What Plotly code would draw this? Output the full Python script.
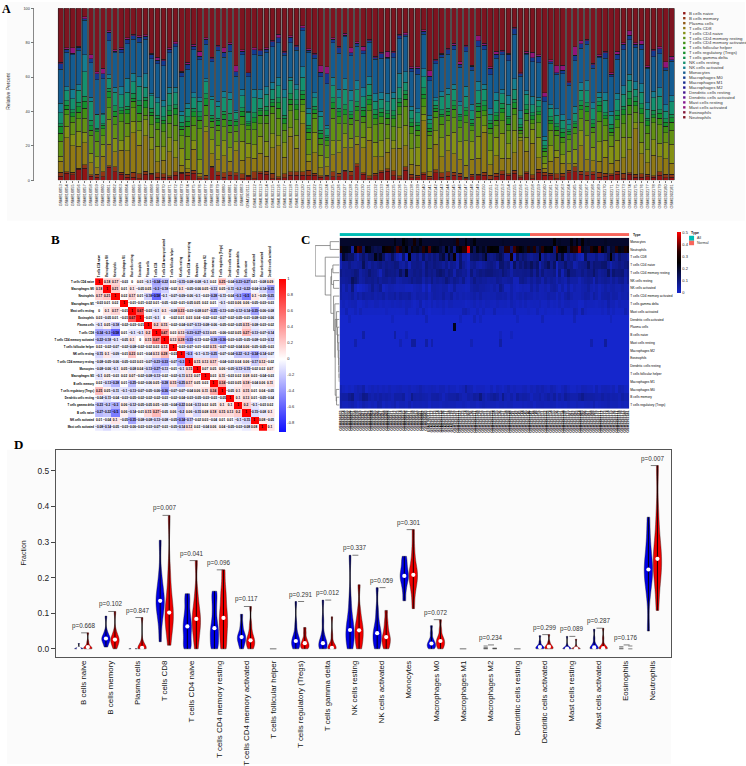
import colorsys
import plotly.graph_objects as go

FONT = "Liberation Sans"
W, H = 746, 766

cell_types = ["B cells naive", "B cells memory", "Plasma cells", "T cells CD8", "T cells CD4 naive",
              "T cells CD4 memory resting", "T cells CD4 memory activated", "T cells follicular helper",
              "T cells regulatory (Tregs)", "T cells gamma delta", "NK cells resting", "NK cells activated",
              "Monocytes", "Macrophages M0", "Macrophages M1", "Macrophages M2", "Dendritic cells resting",
              "Dendritic cells activated", "Mast cells resting", "Mast cells activated", "Eosinophils",
              "Neutrophils"]
samples = ["GSM8168%02d" % i for i in range(53, 84)] + ["GSM19021%02d" % i for i in range(11, 82)]

# Panel A: percent per sample
b_naive = [3,5,4,8,7,3,2,2,8,5, 4,2,2,1,4,4,2,2,2,3, 5,3,4,1,1,8,3,2,3,3, 1,4,1,5,4,1,1,2,3,3, 3,3,3,2,2,2,2,5,3,9,4,1,
           3,5,6,3,1,6,2,2,4,1, 5,2,3,3,3,1,3,3,3,1, 3,4,4,4,3,4,1,5,4,3, 1,2,6,5,4,3,5,2,3,4, 4,1,4,2,2,3,2,3,2,2]
b_memory = [3,1,2,1,2,1,2,3,1,3, 1,2,3,3,2,1,3,2,1,2, 1,2,2,1,2,1,2,3,2,2, 3,1,4,1,2,3,1,3,2,2, 2,3,1,1,1,3,2,1,3,2,1,2,
            2,1,2,3,2,2,3,2,1,2, 2,3,3,2,2,1,2,1,2,3, 2,2,1,2,2,1,3,2,2,1, 3,2,2,3,2,2,2,3,2,1, 2,3,1,2,2,2,1,2,3,2]
t_cd8 = [8,24,19,16,13,9,4,9,13,9, 14,15,24,18,24,17,7,8,15,8, 5,2,12,2,26,8,7,11,6,15, 8,17,8,13,10,15,18,12,21,14, 28,5,12,5,5,10,12,13,15,13,17,23,
         11,9,11,14,17,12,8,8,33,3, 17,11,15,11,10,7,12,10,24,8, 12,8,12,10,40,12,23,7,3,7, 10,6,5,2,17,7,9,7,11,8, 7,9,15,30,12,9,13,9,12,7]
t_cd4_naive = [4,8,8,11,6,7,7,7,15,8, 6,9,7,9,11,9,10,8,9,10, 12,6,5,8,3,9,8,10,8,6, 11,14,8,12,10,8,6,11,5,8, 7,4,12,8,5,8,7,8,6,5,7,8,
               10,10,9,5,13,12,12,14,4,16, 9,13,11,13,13,15,14,14,4,11, 13,16,11,13,4,8,10,13,4,9, 4,5,10,8,10,14,11,12,12,13, 13,12,8,4,7,10,10,8,13,12]
t_cd4_rest = [11,8,9,9,8,13,10,5,7,8, 12,9,8,6,3,9,11,9,9,9, 9,14,9,18,7,8,9,9,9,7, 10,13,9,9,12,12,10,9,10,9, 4,9,8,7,7,13,10,6,9,11,10,11,
              12,11,10,9,8,11,12,10,5,9, 9,9,10,9,10,11,9,12,6,13, 8,8,10,9,4,10,4,9,5,9, 9,7,9,9,8,9,12,13,10,8, 8,8,15,7,12,13,11,11,8,9]
t_cd4_act = [6,4,4,5,6,4,6,4,6,5, 5,6,4,5,5,7,4,5,5,6, 5,6,5,5,6,4,3,5,4,4, 5,4,4,6,5,4,6,5,4,6, 3,4,3,4,3,6,4,5,4,6,4,4,
             4,4,4,5,5,4,6,4,5,3, 4,5,4,5,5,4,4,4,3,4, 4,5,5,4,4,4,3,5,4,4, 3,3,4,4,6,5,4,6,5,3, 5,5,6,4,5,6,3,4,5,5]
t_regs = [5,3,3,4,4,3,1,2,4,3, 2,3,2,5,5,2,3,2,3,4, 2,3,3,2,4,2,3,3,3,3, 3,2,3,3,3,2,3,4,3,3, 3,2,2,3,2,3,3,3,2,3,4,3,
          3,3,3,2,3,3,3,4,3,2, 2,2,3,2,3,3,2,3,3,4, 3,3,4,3,3,2,3,2,2,2, 2,3,3,2,3,3,3,4,2,3, 3,3,4,3,3,4,2,3,3,3]
t_gamma = [2,3,2,3,3,4,1,1,2,3, 2,2,3,3,2,3,2,2,3,2, 3,3,2,3,3,2,1,2,4,1, 2,2,3,2,3,2,3,2,3,3, 2,2,2,2,1,3,2,3,2,3,2,3,
           3,2,2,3,2,2,3,2,4,3, 2,3,2,3,2,2,3,2,3,2, 2,3,2,2,3,3,2,3,2,2, 2,2,1,1,3,2,3,2,2,3, 3,2,5,3,3,2,3,2,3,2]
nk_rest = [8,7,8,9,14,14,9,5,6,8, 8,9,7,9,7,9,8,6,8,7, 5,5,6,6,7,10,7,9,8,5, 7,9,9,7,8,6,7,13,8,6, 8,7,5,9,4,7,6,9,7,8,7,7,
           6,6,6,8,7,5,7,8,7,3, 3,9,10,7,6,7,7,8,7,5, 9,6,9,6,7,6,6,4,4,5, 5,5,4,5,7,7,9,3,9,7, 7,7,7,5,7,7,8,8,6,8]
nk_act = [7,3,7,4,10,3,0,1,2,3, 5,9,5,6,9,2,3,4,4,3, 3,3,3,2,2,2,3,4,4,1, 4,1,5,6,5,4,5,6,2,3, 6,3,3,3,2,5,5,6,7,6,6,5,
          5,4,6,4,9,6,3,3,5,3, 2,3,4,3,3,6,5,6,3,4, 5,3,7,6,9,2,6,2,3,2, 4,3,4,4,5,6,5,3,5,3, 4,5,4,5,5,5,4,5,5,4]
macro_m0 = [4,2,1,2,1,3,4,3,5,1, 2,3,2,3,2,3,2,3,2,2, 3,3,2,2,3,2,2,3,4,3, 2,4,3,3,2,3,3,2,3,2, 2,1,2,3,6,2,3,1,2,2,2,1,
            1,3,1,3,2,1,3,5,2,3, 2,2,3,3,2,3,3,4,3,5, 3,2,5,3,3,1,3,4,4,1, 1,2,2,3,3,2,3,1,4,2, 3,3,3,2,3,1,4,3,2,1]
mast_act = [1,1,4,1,1,3,1,3,1,1, 1,1,1,1,1,1,2,1,1,1, 1,1,1,3,1,1,1,3,1,4, 1,0,1,1,1,1,2,1,1,1, 1,1,1,4,4,1,1,1,3,1,3,1,
            1,1,4,1,1,1,1,1,1,4, 1,1,1,1,2,1,1,3,1,1, 2,1,1,1,1,1,4,1,3,1, 4,3,1,5,2,1,1,1,1,1, 2,1,3,1,2,1,1,1,5,2]
# lower edge of the neutrophil segment
neutrophil_edge = [68.6,77,77,78,95,73,63,65,87,76, 77,83,85,84,84.5,74,71.5,70.5,77,80.5,
                   63.5,68.5,79,75,83,71.5,78.5,77,80,66.5, 76,62.5,77,76,77,81.5,85,75,84,78.5,
                   89.8,76.5,74,66.5,66,83,78,85.4,77,80.5,78,82,
                   72,74.5,75,75,85,85.7,66,66,87.5,63.8, 70.5,74,76.7,79.6,69,78.6,67,84,79.6,66,
                   75,75.7,74,89,62.6,75,74.4,73,51,70, 66.5,67,57.4,77.6,81,82,68,73,75,62.5,
                   75,80,87,80,81,66.5,76.3,77.6,69,72]

# Panel C: sparse rows, sample index -> fraction
plasma_hits = {40: 0.22}
b_naive_hits = {8: 0.05, 19: 0.05, 23: 0.02, 56: 0.02, 60: 0.02}
mast_rest_hits = {5: 0.04, 21: 0.03, 25: 0.06, 26: 0.06, 30: 0.05, 32: 0.04, 46: 0.03, 56: 0.05, 88: 0.04, 93: 0.06}
dc_act_hits = {3: 0.02, 18: 0.02, 30: 0.03, 42: 0.02, 47: 0.03, 49: 0.02, 62: 0.02, 71: 0.03, 82: 0.03, 95: 0.02}
heat_peak_sample = 80
heat_peak_column = 45
heat_rows = ["Monocytes", "Neutrophils", "T cells CD8", "T cells CD4 naive", "T cells CD4 memory resting",
             "NK cells resting", "NK cells activated", "T cells CD4 memory activated", "T cells gamma delta",
             "Mast cells activated", "Dendritic cells activated", "Plasma cells", "B cells naive",
             "Mast cells resting", "Macrophages M2", "Eosinophils", "Dendritic cells resting",
             "T cells follicular helper", "Macrophages M1", "Macrophages M0", "B cells memory",
             "T cells regulatory (Tregs)"]
sample_type = [0] * 67 + [1] * 35
# [height, child a, child b]; children <22 are rows, >=22 are earlier merges
dendro_merges = [[28,0,1],[1,17,18],[1.5,16,23],[2,15,24],[2.5,14,25],[4,13,26],[5,12,27],[6,11,28],[8,10,29],[9,9,30],
                 [9,20,21],[10,19,32],[13,31,33],[14,8,34],[18,7,35],[18,5,6],[20,3,4],[24,38,37],[26,39,36],[43,2,40],[73,22,41]]

# Panel B
corr_labels = ["T cells CD4 naive", "Macrophages M0", "Neutrophils", "Macrophages M1", "Mast cells resting", "Eosinophils",
               "Plasma cells", "T cells CD8", "T cells CD4 memory activated", "T cells follicular helper", "NK cells resting",
               "T cells CD4 memory resting", "Monocytes", "Macrophages M2", "B cells memory", "T cells regulatory (Tregs)",
               "Dendritic cells resting", "T cells gamma delta", "B cells naive", "NK cells activated", "Mast cells activated",
               "Dendritic cells activated"]
corr_upper = [
 [.18,.17,-.03,0,.03,-.1,-.34,-.22,.02,-.15,-.08,-.08,-.1,.02,.25,-.04,-.23,-.27,.01,-.08,.09],
 [.21,.01,.1,-.05,.05,-.3,-.18,-.02,.1,-.05,-.06,.05,-.13,.05,-.11,-.2,-.22,-.04,-.14,-.35],
 [.02,.17,.01,-.18,-.58,-.1,-.07,-.09,-.06,-.1,-.03,-.28,-.11,-.04,-.3,-.5,.1,-.05,-.25],
 [-.01,-.01,-.02,.01,-.05,-.02,-.01,-.05,.05,.02,.01,-.1,-.03,.06,.06,-.05,-.03,-.03],
 [.67,-.03,-.1,.1,-.08,.23,-.03,-.08,.07,-.25,-.13,-.05,-.12,-.14,-.35,-.06,-.08],
 [-.01,-.1,0,-.02,.01,.03,.04,-.02,-.02,-.07,-.02,-.05,-.01,-.08,-.03,-.06],
 [.2,.15,-.02,-.04,-.07,-.13,-.08,-.06,-.05,-.02,-.05,.15,-.08,-.03,-.02],
 [.47,.03,.13,-.23,-.27,-.13,.05,-.06,-.02,.05,.27,-.13,-.07,-.14],
 [.13,.28,-.33,-.13,-.02,-.28,-.36,-.03,-.05,-.05,-.08,-.03,-.12],
 [-.03,-.07,-.01,-.02,.15,-.07,-.02,-.04,.06,-.05,-.05,-.03],
 [-.3,-.1,-.11,-.25,-.07,-.04,-.22,-.2,-.34,-.14,-.07],
 [.15,.13,.17,-.04,-.03,.04,.06,-.17,.12,-.02],
 [.07,.05,.06,-.05,-.13,-.15,-.02,.02,.07],
 [.03,.11,-.03,.02,.08,.03,-.04,-.03],
 [.34,-.03,.05,.18,-.04,.06,.11],
 [-.05,.1,.15,.01,.04,-.05],
 [.1,.13,.01,-.05,-.04],
 [.2,-.1,-.03,.02],
 [-.15,-.08,.1],
 [.08,-.05],
 [.1],
]
corr_rows_shown = 21

# Panel D: representative values per violin
violin_blue = [[0,0,0,0,.001,.002,.004,.015],[.005,.015,.022,.027,.029,.032,.038,.05,.092],[0,0,0,.001],
 [.02,.08,.11,.125,.135,.15,.17,.21,.305],[0,.01,.03,.05,.063,.08,.1,.13,.155],[0,.01,.03,.045,.058,.08,.11,.14,.162],
 [0,.012,.022,.028,.033,.04,.05,.07,.097],[],[0,.005,.012,.018,.022,.03,.04,.07,.133],[0,.002,.008,.012,.016,.025,.04,.08,.137],
 [0,.012,.03,.042,.053,.07,.09,.14,.263],[0,.01,.025,.035,.044,.055,.075,.11,.172],[.135,.165,.185,.197,.205,.215,.228,.245,.26],
 [0,.003,.008,.012,.015,.02,.028,.045,.065],[],[],[],[0,0,.001,.003,.005,.008,.011,.02,.037],[0,0,0,0,.001,.003,.01,.035],
 [0,0,.001,.002,.004,.008,.015,.03,.055],[],[.05,.15,.19,.21,.223,.24,.27,.31,.37]]
violin_red = [[0,0,0,.002,.005,.01,.02,.045],[0,.01,.018,.023,.026,.03,.036,.05,.105],[0,0,.002,.003,.005,.02,.088],
 [.01,.06,.08,.09,.102,.125,.16,.22,.375],[0,.03,.055,.07,.084,.1,.12,.16,.248],[0,.02,.05,.07,.087,.11,.14,.17,.222],
 [0,.006,.014,.02,.024,.032,.045,.07,.119],[],[0,.003,.008,.012,.016,.022,.03,.045,.06],[0,0,0,.001,.003,.008,.018,.04,.09],
 [0,.012,.03,.042,.052,.065,.08,.11,.18],[0,.008,.02,.027,.033,.045,.06,.08,.108],[.113,.16,.185,.2,.208,.22,.24,.28,.335],
 [0,.006,.012,.018,.022,.028,.036,.055,.082],[],[],[],[0,0,.001,.003,.006,.009,.012,.02,.04],[0,0,0,0,.001,.002,.008,.027],
 [0,0,0,.001,.002,.005,.012,.03,.058],[],[.108,.18,.215,.235,.253,.275,.31,.38,.515]]
speck_blue = {15: [0, .001, .004, .008], 20: [0, .002, .006]}
speck_red = {15: [0, .002, .001], 20: [0, .008]}
p_values = ["0.668","0.102","0.847","0.007","0.041","0.096","0.117",None,"0.291","0.012","0.337","0.059","0.301","0.072",
            None,"0.234",None,"0.299","0.089","0.287","0.176","0.007"]
flat_groups = [7, 14, 16]


def xd(a, b): return [a / W, b / W]
def yd(top, bottom): return [1 - bottom / H, 1 - top / H]


n = len(samples)
zero = [0] * n
def hits(d):
    r = list(zero)
    for k, v in d.items():
        r[k] = v * 100
    return r

lower = [b_naive, b_memory, t_cd8, t_cd4_naive, t_cd4_rest, t_cd4_act, t_regs, t_gamma, nk_rest, nk_act, macro_m0, mast_act]
fit = []
for i in range(n):
    s = sum(col[i] for col in lower)
    fit.append(min(1, (neutrophil_edge[i] - 20) / s))
def fitted(col): return [round(col[i] * fit[i], 2) for i in range(n)]
lower_fit = [fitted(c) for c in lower]
fb_n, fb_m, fcd8, fn, fr, fa, ftr, fg, fnr, fna, fm0, fma = lower_fit
mono = [round(neutrophil_edge[i] - sum(c[i] for c in lower_fit), 2) for i in range(n)]
neut = [round(100 - e, 2) for e in neutrophil_edge]
series = {"B cells naive": fb_n, "B cells memory": fb_m, "Plasma cells": zero, "T cells CD8": fcd8, "T cells CD4 naive": fn,
          "T cells CD4 memory resting": fr, "T cells CD4 memory activated": fa, "T cells follicular helper": zero,
          "T cells regulatory (Tregs)": ftr, "T cells gamma delta": fg, "NK cells resting": fnr, "NK cells activated": fna,
          "Monocytes": mono, "Macrophages M0": fm0, "Macrophages M1": zero, "Macrophages M2": zero,
          "Dendritic cells resting": zero, "Dendritic cells activated": zero, "Mast cells resting": zero,
          "Mast cells activated": fma, "Eosinophils": zero, "Neutrophils": neut}
colors = []
for i in range(22):
    hue = i / 22 + (0.025 if 11 <= i <= 13 else 0)
    r, g, b = colorsys.hsv_to_rgb(hue, 0.86, 0.57)
    colors.append("rgb(%d,%d,%d)" % (r * 255, g * 255, b * 255))
colors[21] = "#7e1420"
colors[20] = "#851638"

fig = go.Figure()
xs = list(range(n))
for name, c in zip(cell_types, colors):
    fig.add_trace(go.Bar(x=xs, y=series[name], name=name, marker=dict(color=c, line=dict(color="#1a1a1a", width=0.45)),
                         xaxis="x", yaxis="y", showlegend=False))

# Panel B heatmap
m = [[1.0] * 22 for _ in range(22)]
for i, row in enumerate(corr_upper):
    for j, v in enumerate(row):
        m[i][i + 1 + j] = v
        m[i + 1 + j][i] = v
z_low = -0.91
mid = -z_low / (1 - z_low)
fig.add_trace(go.Heatmap(z=m[:corr_rows_shown], x=list(range(22)), y=list(range(corr_rows_shown)), zmin=z_low, zmax=1,
                         colorscale=[[0, "#1010ff"], [mid, "#ffffff"], [1, "#ff0000"]],
                         texttemplate="%{z}", textfont=dict(size=3.2, color="#000", family=FONT, weight="bold"), xaxis="x2", yaxis="y2",
                         colorbar=dict(x=279 / W, xanchor="left", y=1 - 278 / H, yanchor="top", len=153, lenmode="pixels",
                                       thickness=7, xpad=0, ypad=0, outlinewidth=0, ticks="",
                                       tickvals=[-.8, -.6, -.4, -.2, 0, .2, .4, .6, .8, 1],
                                       ticktext=["-0.8", "-0.6", "-0.4", "-0.2", "0", "0.2", "0.4", "0.6", "0.8", "1"],
                                       tickfont=dict(size=4, color="#222", family=FONT))))

# Panel C heatmap
lookup = dict(series)
lookup["Plasma cells"] = hits(plasma_hits)
lookup["B cells naive"] = hits(b_naive_hits)
lookup["Mast cells resting"] = hits(mast_rest_hits)
lookup["Dendritic cells activated"] = hits(dc_act_hits)
lookup["B cells memory"] = [a + b for a, b in zip(fb_n, fb_m)]
order = list(range(n))
order[heat_peak_column], order[heat_peak_sample] = order[heat_peak_sample], order[heat_peak_column]
heat_z = [[lookup[r][k] / 100 for k in order] for r in heat_rows]
fig.add_trace(go.Heatmap(z=heat_z, x=xs, y=list(range(22)), zmin=0, zmax=0.51,
                         colorscale=[[0, "#1526cc"], [0.5, "#000000"], [0.68, "#2a0000"], [1, "#ff0000"]], xaxis="x3", yaxis="y3",
                         colorbar=dict(x=677.7 / W, xanchor="left", y=1 - 231 / H, yanchor="top", len=61, lenmode="pixels",
                                       thickness=4.3, xpad=0, ypad=0, outlinewidth=0, ticks="", tickvals=[0, .1, .2, .3, .4, .5],
                                       ticktext=["0", "0.1", "0.2", "0.3", "0.4", "0.5"],
                                       tickfont=dict(size=4, color="#222", family=FONT))))
fig.add_trace(go.Heatmap(z=[sample_type], x=xs, y=[0], zmin=0, zmax=1, showscale=False,
                         colorscale=[[0, "#00bdb5"], [1, "#f8665c"]], xaxis="x3", yaxis="y4"))

# Dendrogram
node_y = {i: i for i in range(22)}
node_h = {i: 0 for i in range(22)}
dx, dy = [], []
for k, (h, a, b) in enumerate(dendro_merges):
    idx = 22 + k
    dx += [node_h[a], h, h, node_h[b], None]
    dy += [node_y[a], node_y[a], node_y[b], node_y[b], None]
    node_y[idx] = (node_y[a] + node_y[b]) / 2
    node_h[idx] = h
fig.add_trace(go.Scatter(x=dx, y=dy, mode="lines", line=dict(color="#6a6a6a", width=0.7), xaxis="x5", yaxis="y5",
                         showlegend=False, hoverinfo="skip"))

# Panel D violins
ann = []
OFF = 0.166
for i in range(22):
    for samples_i, off, col in ((violin_blue[i], -OFF, "#0000e6"), (violin_red[i], OFF, "#f00000")):
        if not samples_i:
            continue
        pos = i + off
        srt = sorted(samples_i)
        bw = max((srt[-1] - srt[0]) / 9, 0.0006)
        fig.add_trace(go.Violin(x0=pos, y=samples_i, width=0.31, spanmode="hard", points=False, fillcolor=col, bandwidth=bw,
                                line=dict(color="#1a1a1a", width=0.4), box_visible=False, meanline_visible=False,
                                xaxis="x4", yaxis="y6", showlegend=False, hoverinfo="skip"))
        fig.add_trace(go.Scatter(x=[pos, pos], y=[srt[0], srt[-1]], mode="lines", line=dict(color="#000", width=0.9),
                                 xaxis="x4", yaxis="y6", showlegend=False, hoverinfo="skip"))
        fig.add_trace(go.Scatter(x=[pos], y=[srt[len(srt) // 2]], mode="markers",
                                 marker=dict(color="#fff", size=4.2, line=dict(width=0)),
                                 xaxis="x4", yaxis="y6", showlegend=False, hoverinfo="skip"))
    if i in flat_groups:
        fig.add_trace(go.Scatter(x=[i - .12, i + .12], y=[0, 0], mode="lines", line=dict(color="#333", width=0.7),
                                 xaxis="x4", yaxis="y6", showlegend=False, hoverinfo="skip"))
    for d, off in ((speck_blue, -OFF), (speck_red, OFF)):
        if i in d:
            fig.add_trace(go.Scatter(x=[i + off] * len(d[i]), y=d[i], mode="markers",
                                     marker=dict(symbol="line-ew", size=3, line=dict(color="#333", width=0.6)),
                                     xaxis="x4", yaxis="y6", showlegend=False, hoverinfo="skip"))
    if p_values[i] is not None:
        vals = violin_blue[i] + violin_red[i] + speck_blue.get(i, []) + speck_red.get(i, [])
        top = max(vals) + (0.003 if i in speck_blue else 0)
        fig.add_trace(go.Scatter(x=[i - .08, i + .14], y=[top, top], mode="lines", line=dict(color="#444", width=0.7),
                                 xaxis="x4", yaxis="y6", showlegend=False, hoverinfo="skip"))
        ann.append(dict(x=i, y=top, xref="x4", yref="y6", text="p=" + p_values[i], showarrow=False, yanchor="bottom",
                        yshift=1, font=dict(size=6.3, color="#333", family=FONT)))

def txt(x, y, s, size, color="#333", anchor="left", angle=0, bold=False, family=FONT):
    ann.append(dict(x=x / W, y=1 - y / H, xref="paper", yref="paper", text=("<b>%s</b>" % s) if bold else s, showarrow=False,
                    xanchor=anchor, yanchor="middle", textangle=angle, font=dict(size=size, color=color, family=family)))

shapes = [dict(type="rect", xref="paper", yref="paper", x0=7 / W, x1=1, y0=1 - 220 / H, y1=1, fillcolor="#fbfbfb",
               line=dict(width=0), layer="below"),
          dict(type="rect", xref="paper", yref="paper", x0=7 / W, x1=672 / W, y0=0, y1=1 - 450 / H, fillcolor="#fbfbfb",
               line=dict(width=0), layer="below"),
          dict(type="rect", xref="x", yref="y", x0=-.5, x1=101.5, y0=0, y1=100, fillcolor="#7d7d7d", line=dict(width=0),
               layer="below")]
# Legend of panel A
for i, (name, c) in enumerate(zip(cell_types, colors)):
    y = 11.3 + 4.98 * i
    shapes.append(dict(type="rect", xref="paper", yref="paper", x0=684 / W, x1=686.4 / W, y0=1 - (y + 1.2) / H,
                       y1=1 - (y - 1.2) / H, fillcolor=c, line=dict(width=0)))
    txt(688, y, name, 4.35, "#333")
# Legend of panel C
for y0, y1, c in ((235, 240, "#00bdb5"), (240, 244.5, "#f8665c")):
    shapes.append(dict(type="rect", xref="paper", yref="paper", x0=690 / W, x1=695 / W, y0=1 - y1 / H, y1=1 - y0 / H,
                       fillcolor=c, line=dict(width=0)))
txt(696, 237.5, "All", 3.6, "#333")
txt(696, 242.3, "Normal", 3.6, "#333")
txt(690, 232.6, "Type", 3.6, "#111", bold=True)
txt(632, 233.8, "Type", 3.4, "#111", bold=True)
txt(7.3, 90, "Relative Percent", 5, "#333", anchor="center", angle=-90)
txt(23.5, 554, "Fraction", 7, "#222", anchor="center", angle=-90)
SERIF = "Liberation Serif"
txt(0, 7, "A", 12, "#000", bold=True, family=SERIF)
txt(49, 239, "B", 13, "#000", bold=True, family=SERIF)
txt(299, 239, "C", 13, "#000", bold=True, family=SERIF)
txt(12, 445, "D", 13, "#000", bold=True, family=SERIF)

fig.update_layout(
    width=W, height=H, margin=dict(l=0, r=0, t=0, b=0), paper_bgcolor="#ffffff", plot_bgcolor="rgba(0,0,0,0)",
    barmode="stack", bargap=0.22, violinmode="overlay", showlegend=False, annotations=ann, shapes=shapes,
    font=dict(family=FONT),
    xaxis=dict(domain=xd(57.7, 675.7), range=[-.5, 101.5], tickvals=xs, ticktext=samples, tickangle=-90, ticks="outside",
               ticklen=1.5, tickwidth=0.4, tickcolor="#777", showgrid=False, zeroline=False,
               tickfont=dict(size=3.9, color="#222", family=FONT), anchor="y"),
    yaxis=dict(domain=yd(6.3, 179.3), range=[0, 100], tickvals=[0, 20, 40, 60, 80, 100], ticksuffix="%", ticks="outside",
               ticklen=3, tickwidth=0.6, tickcolor="#777", showline=True, linecolor="#888", linewidth=0.8, showgrid=False,
               zeroline=False, anchor="free", position=33.5 / W, tickfont=dict(size=3.8, color="#333", family=FONT)),
    xaxis2=dict(domain=xd(95.2, 275), range=[-.5, 21.5], side="top", tickvals=list(range(22)), ticktext=corr_labels,
                tickangle=-90, ticks="", showgrid=False, zeroline=False, anchor="y2",
                tickfont=dict(size=2.7, color="#000", family=FONT, weight="bold")),
    yaxis2=dict(domain=yd(277.6, 431), range=[corr_rows_shown - .5, -.5], tickvals=list(range(corr_rows_shown)),
                ticktext=corr_labels[:corr_rows_shown], ticks="", showgrid=False, zeroline=False, anchor="x2",
                tickfont=dict(size=2.8, color="#000", family=FONT, weight="bold")),
    xaxis3=dict(domain=xd(340, 630), range=[-.5, 101.5], tickvals=xs, ticktext=[samples[k] for k in order], tickangle=-90,
                ticks="", showgrid=False, zeroline=False, anchor="y3",
                tickfont=dict(size=3.6, color="#000", family=FONT, weight="bold")),
    yaxis3=dict(domain=yd(237, 409), range=[21.5, -.5], side="right", tickvals=list(range(22)), ticktext=heat_rows, ticks="",
                showgrid=False, zeroline=False, anchor="x3", tickfont=dict(size=3.2, color="#000", family=FONT)),
    yaxis4=dict(domain=yd(232.3, 235.2), range=[-.5, .5], showticklabels=False, ticks="", showgrid=False, zeroline=False,
                anchor="x3"),
    xaxis5=dict(domain=xd(315.5, 340), range=[73.5, 0], visible=False, anchor="y5"),
    yaxis5=dict(domain=yd(237, 409), range=[21.5, -.5], visible=False, anchor="x5"),
    xaxis4=dict(domain=xd(56, 672), range=[-1.01, 21.67], tickvals=list(range(22)), ticktext=cell_types, tickangle=-90,
                ticks="", showline=True, mirror=True, linecolor="#555", linewidth=1, showgrid=False, zeroline=False,
                anchor="y6", tickfont=dict(size=7.9, color="#111", family=FONT)),
    yaxis6=dict(domain=yd(450, 658), range=[-.0217, .5597], tickvals=[0, .1, .2, .3, .4, .5],
                ticktext=["0.0", "0.1", "0.2", "0.3", "0.4", "0.5"], ticks="outside", ticklen=4, tickwidth=0.8,
                tickcolor="#444", showline=True, mirror=True, linecolor="#555", linewidth=1, showgrid=False, zeroline=False,
                anchor="x4", tickfont=dict(size=8.4, color="#222", family=FONT)),
)
fig.write_html("out.html", config={"displayModeBar": False},
               post_script="document.body.style.margin='0';document.body.style.overflow='hidden';")
